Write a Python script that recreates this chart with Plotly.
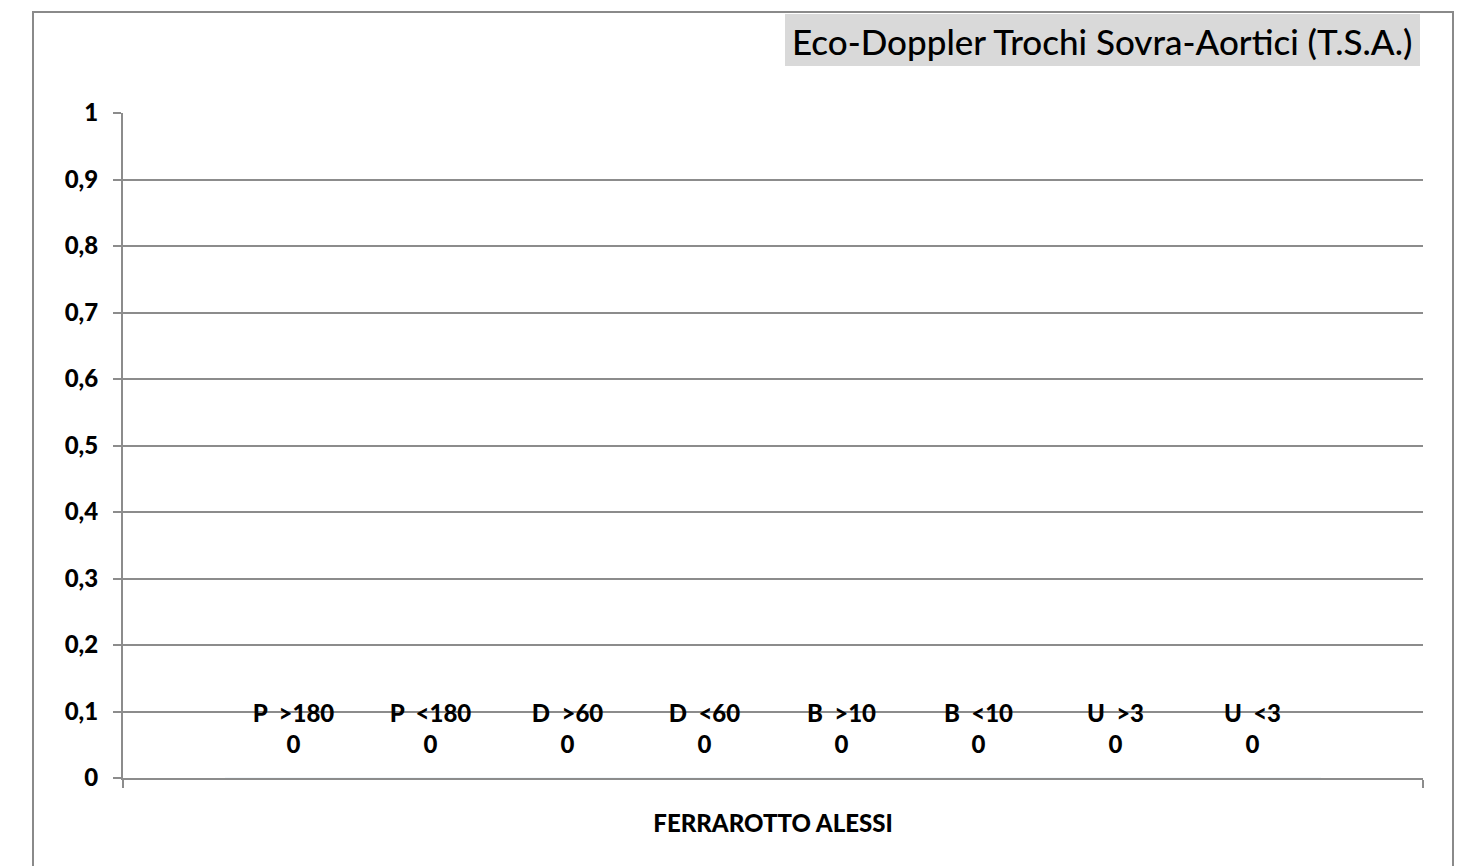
import plotly.graph_objects as go

# one patient, eight parameter classes, all zero
patient = "FERRAROTTO ALESSI"
series_names = ["P\u00a0 >180", "P\u00a0 <180", "D\u00a0 >60", "D\u00a0 <60",
                "B\u00a0 >10", "B\u00a0 <10", "U\u00a0 >3", "U\u00a0 <3"]
series_values = [0, 0, 0, 0, 0, 0, 0, 0]
y_ticks = [0, 0.1, 0.2, 0.3, 0.4, 0.5, 0.6, 0.7, 0.8, 0.9, 1]

FONT = "Lato"
GRID = "#8c8c8c"

fig = go.Figure()
for i, (name, val) in enumerate(zip(series_names, series_values)):
    fig.add_trace(go.Bar(
        x=[patient], y=[val], name=name, offsetgroup=str(i),
        marker_color="#4f81bd", hoverinfo="skip",
    ))
    # data label (name + value) sitting above the zero-height bar
    fig.add_trace(go.Scatter(
        x=[patient], y=[val], name=name, offsetgroup=str(i),
        mode="markers+text", text=[f"{name}<br>{val}"], textposition="top center",
        marker=dict(size=28, opacity=0), cliponaxis=False,
        textfont=dict(family=FONT, size=24, color="black", weight=900),
    ))

# page body puts the figure 8px in from the window corner
OFF = 8
W, H = 1460, 858
L, R, T, B = 123 - OFF, 45, 113 - OFF, 88
pw, ph = W - L - R, H - T - B


def px(x):
    return (x - OFF - L) / pw


def py(y):
    return (H - B - (y - OFF)) / ph


fig.update_layout(
    width=W, height=H,
    margin=dict(l=L, r=R, t=T, b=B),
    paper_bgcolor="white", plot_bgcolor="white",
    separators=", ",
    showlegend=False,
    barmode="group", bargap=0.157, bargroupgap=0,
    scattermode="group", scattergap=0.157,
    font=dict(family=FONT, color="black"),
    xaxis=dict(
        showticklabels=False, showline=True, linecolor=GRID, linewidth=2,
        ticks="outside", tickson="boundaries", ticklen=8, tickcolor=GRID, tickwidth=2,
        title=dict(text=patient, standoff=36,
                   font=dict(family=FONT, size=24, weight=900)),
    ),
    yaxis=dict(
        range=[0, 1], tickvals=y_ticks, showgrid=True, gridcolor=GRID, gridwidth=2,
        showline=True, linecolor=GRID, linewidth=2, zeroline=False,
        ticks="outside", ticklen=8, tickcolor=GRID, tickwidth=2,
        tickfont=dict(family=FONT, size=24, weight=900), ticklabelstandoff=10,
    ),
    shapes=[
        dict(type="rect", xref="paper", yref="paper",
             x0=px(33), x1=px(1453), y0=py(880), y1=py(12),
             line=dict(color="#8a8a8a", width=2), layer="below"),
        dict(type="rect", xref="paper", yref="paper",
             x0=px(785), x1=px(1420), y0=py(66), y1=py(14),
             line=dict(width=0), fillcolor="#d9d9d9", layer="below"),
    ],
    annotations=[dict(
        text="Eco-Doppler Trochi Sovra-Aortici (T.S.A.)",
        xref="paper", yref="paper", x=px(1102), y=py(41),
        xanchor="center", yanchor="middle", showarrow=False,
        font=dict(family=FONT, size=35, color="black", weight=500),
    )],
)

fig.write_html("out.html")
